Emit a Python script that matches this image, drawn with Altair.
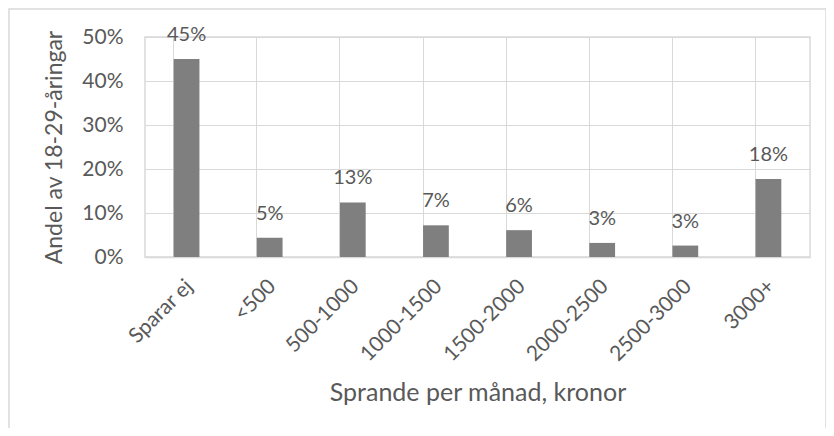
import altair as alt
import pandas as pd

categories = ["Sparar ej", "<500", "500-1000", "1000-1500", "1500-2000", "2000-2500", "2500-3000", "3000+"]
values = [0.450, 0.044, 0.124, 0.072, 0.061, 0.032, 0.026, 0.177]
labels = ["45%", "5%", "13%", "7%", "6%", "3%", "3%", "18%"]

df = pd.DataFrame({"kat": categories, "andel": values, "etikett": labels})

FONT = "Lato"
TXT = "#595959"
GRID = "#d9d9d9"

x = alt.X("kat:N", sort=categories, title="Sprande per månad, kronor",
          scale=alt.Scale(paddingInner=0.69, paddingOuter=0.345),
          axis=alt.Axis(labelAngle=-45, labelAlign="right", labelBaseline="middle",
                        labelPadding=26, labelOffset=3, ticks=False, grid=True, bandPosition=0,
                        gridColor=GRID, domainColor=GRID, domainWidth=1.5,
                        titlePadding=16, labelFontSize=21, titleFontSize=25))
y = alt.Y("andel:Q", title="Andel av 18-29-åringar",
          scale=alt.Scale(domain=[0, 0.5]),
          axis=alt.Axis(format=".0%", values=[0, 0.1, 0.2, 0.3, 0.4, 0.5],
                        ticks=False, domain=False, labelPadding=22,
                        gridColor=GRID, titlePadding=15,
                        labelFontSize=21, titleFontSize=23))

frame = alt.Chart(pd.DataFrame({"a": [0]})).mark_rect(
    fillOpacity=0, stroke=GRID, strokeWidth=1.5
).encode(x=alt.value(-136), x2=alt.value(681), y=alt.value(-28), y2=alt.value(430))

bars = alt.Chart(df).mark_bar(color="#7f7f7f").encode(x=x, y=y)
text = alt.Chart(df).mark_text(baseline="alphabetic", dy=-18, font=FONT,
                               fontSize=20, color=TXT).encode(
    x=alt.X("kat:N", sort=categories), y="andel:Q", text="etikett:N")

chart = alt.layer(frame, bars, text).properties(
    width=665, height=220,
    autosize=alt.AutoSizeParams(type="none"),
    padding={"left": 137, "top": 29, "right": 16, "bottom": 171},
).configure_view(stroke=GRID, strokeWidth=1.5).configure_axis(
    labelFont=FONT, titleFont=FONT,
    labelColor=TXT, titleColor=TXT, titleFontWeight="normal"
)

chart.save("out.html", embed_options={"renderer": "svg", "actions": False})
